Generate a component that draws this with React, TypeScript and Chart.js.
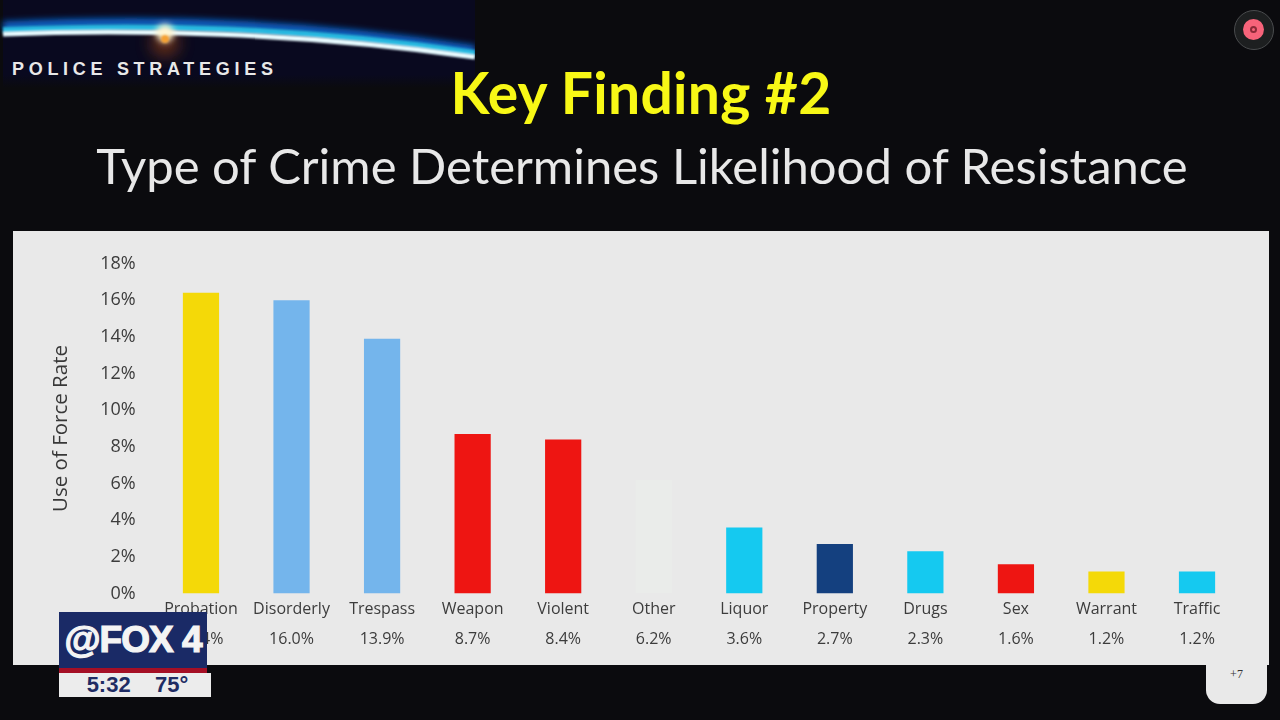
import React, { useEffect, useRef } from "react";
import { Chart, registerables } from "chart.js";

Chart.register(...registerables);

const categories = ["Probation", "Disorderly", "Trespass", "Weapon", "Violent", "Other", "Liquor", "Property", "Drugs", "Sex", "Warrant", "Traffic"];
const rates = [16.4, 16.0, 13.9, 8.7, 8.4, 6.2, 3.6, 2.7, 2.3, 1.6, 1.2, 1.2];
const barColors = ["#f4d908", "#74b5ec", "#74b5ec", "#ee1512", "#ee1512", "#eaecea", "#15c9f0", "#14407f", "#15c9f0", "#ee1512", "#f4d908", "#15c9f0"];
const LABEL_FONT = "'Open Sans', sans-serif";
const TITLE_FONT = "Lato, sans-serif";

const abs = (left: number, top: number, width: number, height: number, extra: React.CSSProperties = {}): React.CSSProperties => ({
  position: "absolute", left, top, width, height, ...extra,
});

export default function App() {
  const ref = useRef<HTMLCanvasElement | null>(null);
  useEffect(() => {
    if (!ref.current) return;
    const chart = new Chart(ref.current, {
      type: "bar",
      data: {
        labels: categories.map((c, i) => [c, rates[i].toFixed(1) + "%"]),
        datasets: [{ label: "Use of Force Rate", data: rates, backgroundColor: barColors, barPercentage: 0.4, categoryPercentage: 1 }],
      },
      options: {
        responsive: false,
        animation: false,
        devicePixelRatio: 1,
        layout: { padding: { left: 49, right: 37.7, top: 263.5, bottom: 0 } },
        plugins: { legend: { display: false }, tooltip: { enabled: false } },
        scales: {
          x: {
            grid: { display: false },
            border: { display: false },
            afterFit: (s: any) => { s.height = 126.5; },
            ticks: {
              maxRotation: 0, minRotation: 0, autoSkip: false, padding: -7,
              color: "#3c3c3c",
              font: { family: LABEL_FONT, size: 16, lineHeight: 1.875 },
            },
          },
          y: {
            min: 0, max: 18,
            grid: { display: false },
            border: { display: false },
            afterFit: (s: any) => { s.width = 106.7; },
            title: {
              display: true, text: "Use of Force Rate", color: "#383838",
              font: { family: LABEL_FONT, size: 20.5, weight: "normal" }, padding: 0,
            },
            ticks: {
              stepSize: 2, padding: 12, color: "#3c3c3c",
              font: { family: LABEL_FONT, size: 18 },
              callback: (v: any) => v + "%",
            },
          },
        },
      },
    } as any);
    return () => chart.destroy();
  }, []);

  return (
    <div style={abs(0, 0, 1280, 720, { position: "fixed", background: "#0b0b0e", overflow: "hidden", fontFamily: LABEL_FONT })}>
      <svg style={abs(0, 0, 480, 90)} viewBox="0 0 480 90">
        <defs>
          <linearGradient id="fade" x1="0" y1="0" x2="0" y2="1">
            <stop offset="0.85" stopColor="#09091f" />
            <stop offset="1" stopColor="#0b0b0e" />
          </linearGradient>
          <filter id="b1" x="-50%" y="-200%" width="200%" height="500%"><feGaussianBlur stdDeviation="3" /></filter>
          <filter id="b2" x="-50%" y="-200%" width="200%" height="500%"><feGaussianBlur stdDeviation="1" /></filter>
          <filter id="b3" x="-200%" y="-200%" width="500%" height="500%"><feGaussianBlur stdDeviation="8" /></filter>
        </defs>
        <rect x="3" y="0" width="472" height="88" fill="url(#fade)" />
        <circle cx="165" cy="43" r="14" fill="#8a3c18" opacity="0.7" filter="url(#b3)" />
        <path d="M3 26 C150 19 300 22 475 50" stroke="#0a62c8" strokeWidth="9" fill="none" filter="url(#b1)" />
        <path d="M3 30 C150 24 300 27 475 53" stroke="#28b8e0" strokeWidth="6" fill="none" filter="url(#b2)" />
        <path d="M3 34 C130 29 300 32 475 57" stroke="#e8fbff" strokeWidth="5" fill="none" filter="url(#b2)" />
        <circle cx="165" cy="33" r="9" fill="#fff4d0" filter="url(#b1)" />
        <circle cx="165" cy="39" r="4" fill="#f5a030" filter="url(#b2)" />
        <rect x="475" y="0" width="5" height="90" fill="#0b0b0e" />
      </svg>
      <div style={abs(12, 58, 280, 22, { color: "#e8e8e8", fontFamily: "'Liberation Sans', sans-serif", fontWeight: 700, fontSize: 18, letterSpacing: "4.7px", whiteSpace: "nowrap", lineHeight: "22px" })}>POLICE STRATEGIES</div>
      <div style={abs(240, 58, 802, 68, { color: "#f8f816", fontFamily: TITLE_FONT, fontWeight: 700, fontSize: 57, letterSpacing: "0.3px", textAlign: "center", lineHeight: "68px" })}>Key Finding #2</div>
      <div style={abs(0, 134, 1284, 62, { color: "#e8e8e8", fontFamily: TITLE_FONT, fontSize: 49, textAlign: "center", lineHeight: "62px", whiteSpace: "nowrap" })}>Type of Crime Determines Likelihood of Resistance</div>

      <div style={abs(13, 231, 1256, 434, { background: "#e9e9e9" })} />
      <div style={abs(1206, 660, 61, 44, { background: "#e9e9e9", borderRadius: "0 0 14px 14px" })} />
      <div style={abs(1206, 664, 61, 20, { color: "#333", fontFamily: "'Liberation Serif', serif", fontSize: 12, textAlign: "center", lineHeight: "20px" })}>+7</div>

      <canvas ref={ref} width={1280} height={720} style={abs(0, 0, 1280, 720, { display: "block" })} />

      <div style={abs(1234, 10, 40, 40, { boxSizing: "border-box", borderRadius: "50%", border: "1px solid #4a4c4e", background: "#1d1f20" })} />
      <div style={abs(1243, 19, 21, 21, { borderRadius: "50%", background: "#f7637a" })} />
      <div style={abs(1250, 26, 7, 7, { boxSizing: "border-box", borderRadius: "50%", border: "2px solid #8c2a38" })} />

      <div style={abs(59, 612, 148, 56, { background: "#1a2a66", color: "#f4f4f4", fontFamily: "'Liberation Sans', sans-serif", fontWeight: 700, fontSize: 37, lineHeight: "56px", textAlign: "center", whiteSpace: "nowrap", letterSpacing: "-1px", WebkitTextStroke: "1.2px #f4f4f4" })}>@FOX 4</div>
      <div style={abs(59, 668, 148, 5, { background: "#a50f25" })} />
      <div style={abs(59, 673, 152, 24, { boxSizing: "border-box", paddingLeft: 5, background: "#ececec", color: "#1f2c64", fontFamily: "'Liberation Sans', sans-serif", fontWeight: 700, fontSize: 22, lineHeight: "24px", textAlign: "center", whiteSpace: "pre" })}>5:32    75°</div>
    </div>
  );
}
